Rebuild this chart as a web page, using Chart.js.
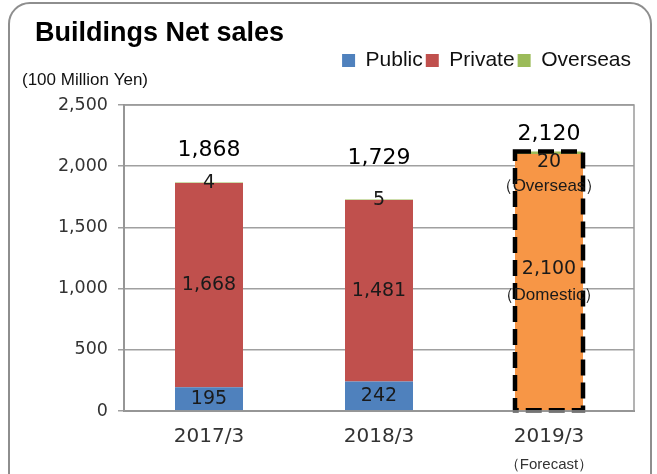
<!DOCTYPE html>
<html>
<head>
<meta charset="utf-8">
<script src="https://cdn.jsdelivr.net/npm/chart.js@4"></script>
<style>
  html, body { margin: 0; padding: 0; background: #fff; overflow: hidden; }
  #wrap { position: relative; width: 657px; height: 474px; }
  #frame {
    position: absolute; left: 8px; top: 2px; width: 644px; height: 500px;
    border: 2px solid #8e8e8e; border-radius: 22px; box-sizing: border-box;
  }
  #chart { position: absolute; left: 0; top: 0; }
</style>
</head>
<body>
<div id="wrap">
  <div id="frame"></div>
  <canvas id="chart" width="657" height="474"></canvas>
</div>
<script>
// ===== data =====
const categories = ["2017/3", "2018/3", "2019/3"];
const publicSales = [195, 242, null];
const privateSales = [1668, 1481, null];
const domesticForecast = [null, null, 2100];
const overseasSales = [4, 5, 20];
const totals = [1868, 1729, 2120];
const yTicks = [0, 500, 1000, 1500, 2000, 2500];

const numFont = "'DejaVu Sans', sans-serif";
const txtFont = "'Liberation Sans', Arial, sans-serif";
const fmt = v => v.toLocaleString("en-US");

// ===== labels / forecast frame =====
const annotate = {
  id: "annotate",
  afterDatasetsDraw(chart) {
    const ctx = chart.ctx;
    const metas = chart.data.datasets.map((_, i) => chart.getDatasetMeta(i));
    const [mPub, mPri, mDom, mOvs] = metas;
    ctx.save();
    ctx.textAlign = "center";
    ctx.textBaseline = "middle";
    ctx.fillStyle = "#1a1a1a";
    ctx.font = "19px " + numFont;

    categories.forEach((c, j) => {
      const pub = mPub.data[j], pri = mPri.data[j], ovs = mOvs.data[j];
      if (publicSales[j] != null) ctx.fillText(fmt(publicSales[j]), pub.x, (pub.y + pub.base) / 2);
      if (privateSales[j] != null) ctx.fillText(fmt(privateSales[j]), pri.x, (pri.y + pri.base) / 2);
      if (domesticForecast[j] == null) {
        ctx.fillText(fmt(overseasSales[j]), ovs.x, ovs.y + 1);
      }
    });

    // forecast bar: dashed frame + inner labels
    const j = 2;
    const dom = mDom.data[j], ovs = mOvs.data[j];
    const half = dom.width / 2;
    ctx.strokeStyle = "#000";
    ctx.lineWidth = 4.5;
    ctx.setLineDash([16, 7]);
    ctx.strokeRect(dom.x - half, ovs.y, half * 2, dom.base - ovs.y);
    ctx.setLineDash([]);

    ctx.fillStyle = "#1a1a1a";
    ctx.font = "19px " + numFont;
    ctx.fillText(fmt(overseasSales[j]), ovs.x, ovs.y + 11);
    ctx.font = "17px " + txtFont;
    ctx.fillText("（Overseas）", ovs.x, ovs.y + 35);
    const mid = (dom.y + dom.base) / 2;
    ctx.font = "19px " + numFont;
    ctx.fillText(fmt(domesticForecast[j]), dom.x, mid - 13);
    ctx.font = "17px " + txtFont;
    ctx.fillText("（Domestic）", dom.x, mid + 13);

    // totals above each bar
    const lift = [32, 41, 17];
    ctx.fillStyle = "#000";
    ctx.font = "22px " + numFont;
    categories.forEach((c, k) => {
      const top = mOvs.data[k];
      ctx.fillText(fmt(totals[k]), top.x, top.y - lift[k]);
    });

    // unit + forecast note
    ctx.font = "17px " + txtFont;
    ctx.textAlign = "left";
    ctx.fillStyle = "#111";
    ctx.fillText("(100 Million Yen)", 22, 80);
    ctx.textAlign = "center";
    ctx.font = "15px " + txtFont;
    ctx.fillStyle = "#333";
    ctx.fillText("（Forecast）", chart.scales.x.getPixelForValue(2), 465);

    // plot frame
    const a = chart.chartArea;
    ctx.strokeStyle = "#9a9a9a";
    ctx.lineWidth = 1.5;
    ctx.strokeRect(a.left, a.top, a.right - a.left, a.bottom - a.top);
    ctx.restore();
  }
};

new Chart(document.getElementById("chart"), {
  type: "bar",
  data: {
    labels: categories,
    datasets: [
      { label: "Public", data: publicSales, backgroundColor: "#4F81BD" },
      { label: "Private", data: privateSales, backgroundColor: "#C0504D" },
      { label: "Domestic", data: domesticForecast, backgroundColor: "#F79646" },
      { label: "Overseas", data: overseasSales, backgroundColor: "#9BBB59" }
    ]
  },
  options: {
    responsive: false,
    animation: false,
    layout: { padding: { left: 35, right: 23, top: 0, bottom: 0 } },
    datasets: { bar: { barPercentage: 0.4, categoryPercentage: 1 } },
    plugins: {
      title: {
        display: true, text: "Buildings Net sales", align: "start",
        color: "#000", font: { family: txtFont, size: 27, weight: "bold", lineHeight: 1 },
        padding: { top: 20, bottom: 0 }
      },
      // empty spacer between legend and plot
      subtitle: {
        display: true, text: " ", weight: 500,
        font: { size: 10, lineHeight: 1 }, padding: { top: 0, bottom: 14 }
      },
      legend: {
        align: "end",
        labels: {
          color: "#111", font: { family: txtFont, size: 21 },
          boxWidth: 13, boxHeight: 13, padding: 3,
          filter: item => item.text !== "Domestic"
        }
      },
      tooltip: { enabled: false }
    },
    scales: {
      x: {
        stacked: true,
        grid: { display: false },
        border: { color: "#8a8a8a", width: 2 },
        ticks: { color: "#333", font: { family: numFont, size: 20 }, padding: 6 },
        afterFit: s => { s.height = 63; }
      },
      y: {
        stacked: true,
        min: 0, max: 2500,
        afterBuildTicks: s => { s.ticks = yTicks.map(v => ({ value: v })); },
        grid: { color: "#a0a0a0", lineWidth: 1.5, tickLength: 6, drawTicks: true },
        border: { color: "#8a8a8a", width: 2 },
        ticks: { color: "#333", font: { family: numFont, size: 17.5 }, padding: 10,
          callback: v => fmt(v) },
        afterFit: s => { s.width = 89; }
      }
    }
  },
  plugins: [annotate]
});
</script>
</body>
</html>
